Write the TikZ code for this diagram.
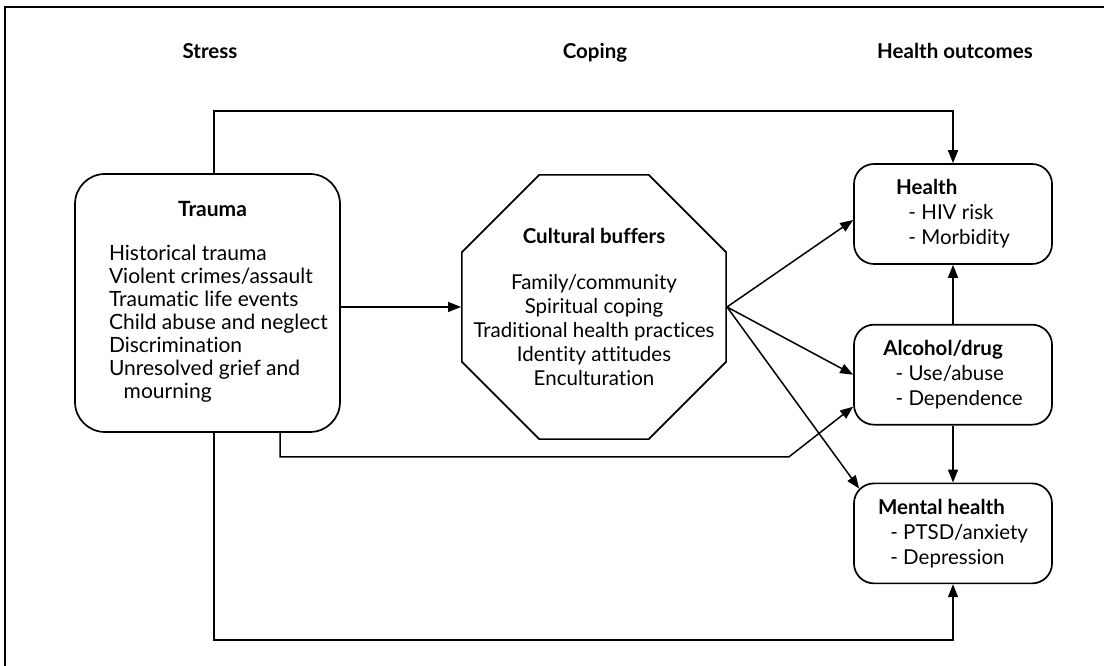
\documentclass[tikz,border=0pt]{standalone}
\usepackage{fontspec}
\setmainfont{Lato}[Ligatures=NoCommon]
\usetikzlibrary{positioning, arrows.meta, shapes.geometric}

\newcommand{\outitem}{\hspace*{0.6em}- }

\begin{document}
\begin{tikzpicture}[
    x=1pt, y=1pt,
    header/.style={font=\fontsize{20.5}{24}\selectfont\bfseries, anchor=base},
    stressbox/.style={rectangle, draw, line width=1.7pt, rounded corners=30pt, minimum width=265pt, minimum height=258pt, inner sep=0pt, font=\fontsize{21}{23}\selectfont},
    buffer/.style={regular polygon, regular polygon sides=8, draw, line width=1.7pt, minimum size=286pt, inner sep=-30pt, align=center, font=\fontsize{20.5}{24}\selectfont},
    outcome/.style={rectangle, draw, line width=1.7pt, rounded corners=20pt, minimum width=198pt, minimum height=100pt, align=left, font=\fontsize{20.5}{25}\selectfont},
    arrow/.style={-{Triangle[length=13pt, width=10pt]}, line width=1.5pt}
]
    \useasboundingbox (0,0) rectangle (1104,666);
    \draw [line width=1.5pt] (1104,659) -- (5,659) -- (5,0);

    % column headers
    \node [header] (stress) at (210,607) {Stress};
    \node [header] (coping) at (595,607) {Coping};
    \node [header] (outcomes) at (955,607) {Health outcomes};

    % stress
    \node [stressbox] (trauma) at (207.5,363) {%
        \begin{tabular}{@{\hspace{22pt}}l@{}}
        \multicolumn{1}{@{\hspace{16pt}}c@{\hspace{6pt}}}{\textbf{Trauma}}\\[21pt]
        Historical trauma\\
        Violent crimes/assault\\
        Traumatic life events\\
        Child abuse and neglect\\
        Discrimination\\
        Unresolved grief and\\
        \hspace*{0.7em}mourning
        \end{tabular}};

    % coping
    \node [buffer] (buffers) at (594,359) {\textbf{Cultural buffers}\\[22pt]Family/community\\Spiritual coping\\Traditional health practices\\Identity attitudes\\Enculturation};

    % health outcomes
    \node [outcome] (health) at (953,452) {\textbf{Health}\\\outitem HIV risk\\\outitem Morbidity};
    \node [outcome, below=59pt of health] (alcohol) {\textbf{Alcohol/drug}\\\outitem Use/abuse\\\outitem Dependence};
    \node [outcome, below=57pt of alcohol] (mental) {\textbf{Mental health}\\\outitem PTSD/anxiety\\\outitem Depression};

    \draw [arrow] (trauma.east |- buffers.west) -- (buffers.west);
    \draw [arrow] (buffers.east) -- ([yshift=-6pt]health.west);
    \draw [arrow] (buffers.east) -- (alcohol.west);
    \draw [arrow] (buffers.east) -- ([xshift=6pt, yshift=-6pt]mental.north west);
    \draw [arrow] (alcohol.north) -- (health.south);
    \draw [arrow] (alcohol.south) -- (mental.north);

    \draw [arrow] ([xshift=6.5pt]trauma.north) |- ([yshift=52pt]health.north) -- (health.north);
    \draw [arrow] ([xshift=6.5pt]trauma.south) |- ([yshift=-56pt]mental.south) -- (mental.south);
    \draw [arrow] ([xshift=72.5pt]trauma.south) -- ++(0,-24) -- ++(509,0) -- ([yshift=-32pt]alcohol.west);
\end{tikzpicture}
\end{document}
